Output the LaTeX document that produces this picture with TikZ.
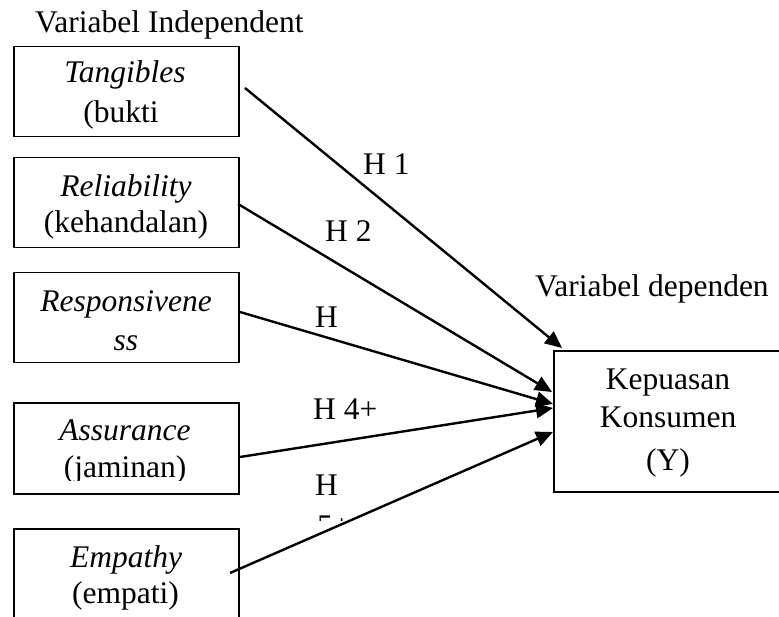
\documentclass[tikz,border=0pt]{standalone}
\usepackage{fontspec}
\setmainfont{Liberation Serif}
\usetikzlibrary{arrows.meta}
\begin{document}
\begin{tikzpicture}[x=1pt,y=-1pt,
  box/.style={draw=black,line width=1.5pt,minimum width=225pt,minimum height=90pt,inner sep=0pt,anchor=north west},
  txt/.style={anchor=base,inner sep=0pt,font=\fontsize{31.5}{36}\selectfont},
  ltxt/.style={anchor=base west,inner sep=0pt,font=\fontsize{31.5}{36}\selectfont},
  conn/.style={line width=2.4pt,-{Triangle[length=17pt,width=15pt]}}]
\useasboundingbox (0,0) rectangle (779,617);
\clip (0,0) rectangle (779,617);

% headings
\node[ltxt] (hind) at (35,33) {Variabel Independent};
\node[ltxt] (hdep) at (535,297) {Variabel dependen};

% independent boxes
\node[box] (tang) at (13,46) {};
\node[txt] (tang1) at (125,83) {\itshape Tangibles};
\node[txt] (tang2) at (121,123) {(bukti};

\node[box] (rel) at (13,157) {};
\node[txt] (rel1) at (126,197) {\itshape Reliability};
\node[txt] (rel2) at (126,233) {(kehandalan)};

\node[box] (resp) at (13,272) {};
\node[txt] (resp1) at (126,312) {\itshape Responsivene};
\node[txt] (resp2) at (126,351) {\itshape ss};

\node[box,minimum height=91pt] (ass) at (13,402) {};
\node[txt] (ass1) at (125,440) {\itshape Assurance};
\begin{scope}
  \clip (14,402) rectangle (237,480);
  \node[txt] (ass2) at (125,477) {(jaminan)};
\end{scope}

\node[box,minimum height=110pt] (emp) at (13,528) {};
\node[txt] (emp1) at (126,567) {\itshape Empathy};
\node[txt] (emp2) at (125.5,603) {(empati)};

% dependent box
\node[box,line width=2pt,minimum width=250pt,minimum height=141pt] (kep) at (553,350) {};
\node[txt] (kep1) at (668,390) {Kepuasan};
\node[txt] (kep2) at (668,427) {Konsumen};
\node[txt] (kep3) at (668,470) {(Y)};

% connector ends
\coordinate (s1) at (245,88);  \coordinate (e1) at (562,348);
\coordinate (s2) at (238,204); \coordinate (e2) at (552,392);
\coordinate (s3) at (240,312); \coordinate (e3) at (553,404);
\coordinate (s4) at (240,457); \coordinate (e4) at (553,408);
\coordinate (s5) at (230,573); \coordinate (e5) at (553,432);

% hypothesis labels
\node[ltxt] (h1) at (363,175) {H 1};
\node[ltxt] (h2) at (325,242) {H 2};
\node[ltxt] (h3) at (315,328) {H};
\node[ltxt] (h4) at (313,419) {H 4+};
\node[ltxt] (h5) at (315,495) {H};
\begin{scope}
  \clip (300,460) rectangle (370,520);
  \node[ltxt] (h5b) at (317,536) {5+};
\end{scope}

% connectors
\draw[conn] (s1) -- (e1);
\draw[conn] (s2) -- (e2);
\draw[conn] (s3) -- (e3);
\draw[conn] (s4) -- (e4);
\draw[conn] (s5) -- (e5);
\end{tikzpicture}
\end{document}
